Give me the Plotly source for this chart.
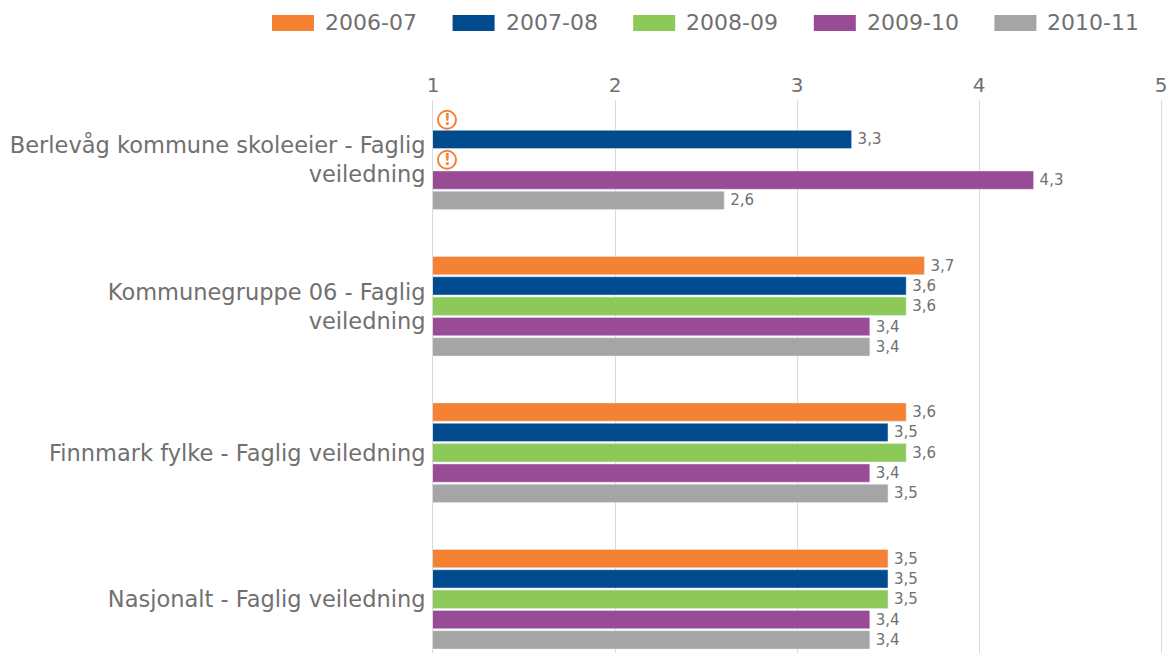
import plotly.graph_objects as go

categories = ["Berlevåg kommune skoleeier - Faglig<br>veiledning", "Kommunegruppe 06 - Faglig<br>veiledning",
              "Finnmark fylke - Faglig veiledning", "Nasjonalt - Faglig veiledning"]
periods = ["2006-07", "2007-08", "2008-09", "2009-10", "2010-11"]
v_2006_07 = [None, 3.7, 3.6, 3.5]
v_2007_08 = [3.3, 3.6, 3.5, 3.5]
v_2008_09 = [None, 3.6, 3.6, 3.5]
v_2009_10 = [4.3, 3.4, 3.4, 3.4]
v_2010_11 = [2.6, 3.4, 3.5, 3.4]
series = [v_2006_07, v_2007_08, v_2008_09, v_2009_10, v_2010_11]
colors = ["#F58233", "#004B8D", "#8CC958", "#9A4B96", "#A5A5A5"]
FONT = "DejaVu Sans"
TXT = "#707070"
GRID = "#DADADA"
W, H = 1168, 653

fig = go.Figure()
for name, vals, col in zip(periods, series, colors):
    fig.add_trace(go.Bar(name=name, y=categories, x=vals, orientation="h", marker_color=col,
                         texttemplate="\u2009%{x:.1f}", textposition="outside", cliponaxis=False,
                         textfont=dict(family=FONT, size=15, color=TXT), showlegend=False))

shapes, annots = [], []
# legend
for i, (name, col) in enumerate(zip(periods, colors)):
    x0 = 272 + i * 180.6
    shapes.append(dict(type="rect", xref="paper", yref="paper",
                       x0=(x0 - 433) / 728, x1=(x0 + 42 - 433) / 728,
                       y0=(653 - 31) / 553, y1=(653 - 15) / 553,
                       fillcolor=col, line_width=0, layer="above"))
    annots.append(dict(xref="paper", yref="paper", x=(x0 + 51 - 433) / 728, y=(653 - 23) / 553,
                       text=name, showarrow=False, xanchor="left", yanchor="middle",
                       font=dict(family=FONT, size=22, color=TXT)))
# warning marks for the missing bars
for shift in (40, 0):
    shapes.append(dict(type="circle", xref="x", yref="y", xsizemode="pixel", ysizemode="pixel",
                       xanchor=1, yanchor=categories[0], x0=5, x1=23, y0=shift - 9, y1=shift + 9,
                       line=dict(color="#F58233", width=2), fillcolor="white", layer="above"))
    annots.append(dict(x=1, y=categories[0], xref="x", yref="y", xshift=14, yshift=shift, text="<b>!</b>",
                       showarrow=False, font=dict(family=FONT, size=15, color="#F58233")))

fig.update_layout(
    width=W, height=H, autosize=False, barmode="group", bargap=0.306, bargroupgap=0.1,
    separators=",.", paper_bgcolor="white", plot_bgcolor="white",
    margin=dict(l=433, r=7, t=100, b=0, pad=0, autoexpand=False),
    shapes=shapes, annotations=annots, showlegend=False,
    font=dict(family=FONT, color=TXT),
)
fig.update_xaxes(side="top", range=[1, 5], tickvals=[1, 2, 3, 4, 5], gridcolor=GRID, gridwidth=1, automargin=False,
                 zeroline=False, showline=False, ticks="", ticklabelstandoff=3,
                 tickfont=dict(family=FONT, size=20, color=TXT))
fig.update_yaxes(range=[3.367, -0.408], showgrid=False, zeroline=False, showline=True, mirror=True, automargin=False,
                 linecolor=GRID, linewidth=1, ticks="", ticklabelstandoff=2,
                 tickfont=dict(family=FONT, size=22.5, color=TXT))
fig.write_html("out.html", default_width="1168px", default_height="653px",
               config=dict(displayModeBar=False),
               post_script="document.body.style.margin='0';")
